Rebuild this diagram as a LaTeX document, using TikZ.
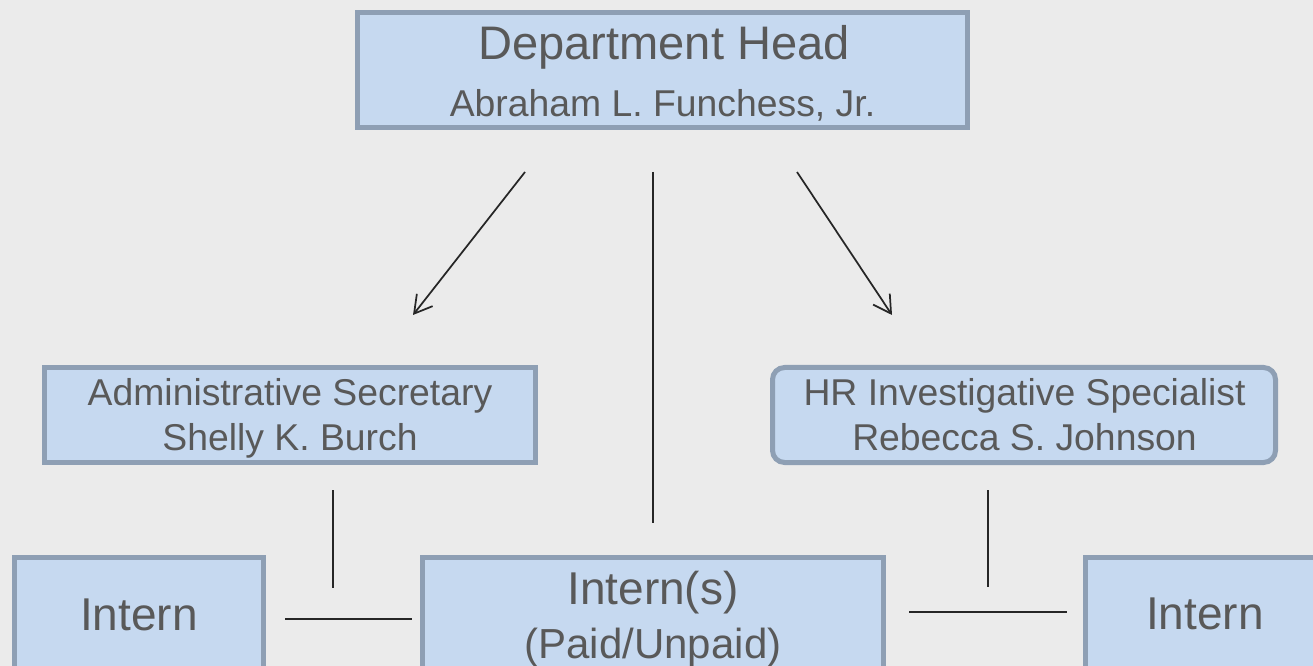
\documentclass[tikz,border=0pt]{standalone}
\usepackage{fontspec}
\setmainfont{Liberation Sans}
\usetikzlibrary{arrows.meta}
\definecolor{bgc}{HTML}{EBEBEB}
\definecolor{boxfill}{HTML}{C6D9F0}
\definecolor{boxline}{HTML}{8E9FB4}
\definecolor{txt}{HTML}{595959}
\definecolor{linec}{HTML}{262626}
\tikzset{
  box/.style={draw=boxline, fill=boxfill, line width=3.75pt, inner sep=0pt, rectangle},
  lbl/.style={text=txt, anchor=base, inner sep=0pt},
  big/.style={font=\fontsize{34.5pt}{40pt}\selectfont},
  title/.style={font=\fontsize{35.3pt}{41pt}\selectfont},
  mid/.style={font=\fontsize{31.5pt}{37pt}\selectfont},
  small/.style={font=\fontsize{28pt}{33pt}\selectfont},
  conn/.style={draw=linec, line width=1.3pt},
  arr/.style={conn, -{Straight Barb[length=13pt, width=15pt, line width=1.3pt]}}
}
\begin{document}
\begin{tikzpicture}[x=0.75pt, y=-0.75pt]
\clip (0,0) rectangle (1313,666);
\fill[bgc] (0,0) rectangle (1313,666);

% boxes
\node[box, minimum width=457.5pt, minimum height=86.25pt] (head) at (662.5,70) {};
\node[box, minimum width=368.25pt, minimum height=71.25pt] (admin) at (290,415) {};
\node[box, rounded corners=9pt, minimum width=377.25pt, minimum height=71.25pt] (hr) at (1024,415) {};
\node[box, minimum width=186.75pt, minimum height=93.75pt] (internL) at (139,620) {};
\node[box, minimum width=345.75pt, minimum height=93.75pt] (interns) at (653,620) {};
\node[box, minimum width=194.25pt, minimum height=93.75pt] (internR) at (1215,620) {};

% texts
\node[lbl, title] (headA) at (664,60) {Department Head};
\node[lbl, small] (headB) at (662.5,117) {Abraham L. Funchess, Jr.};
\node[lbl, small] (adminA) at (290,405) {Administrative Secretary};
\node[lbl, small] (adminB) at (290,450) {Shelly K. Burch};
\node[lbl, small] (hrA) at (1024.5,405) {HR Investigative Specialist};
\node[lbl, small] (hrB) at (1024.5,450) {Rebecca S. Johnson};
\node[lbl, big] (internLT) at (139,630) {Intern};
\node[lbl, big] (internsA) at (653,604) {Intern(s)};
\node[lbl, mid] (internsB) at (653,658) {(Paid/Unpaid)};
\node[lbl, big] (internRT) at (1205,629) {Intern};

% connector end points
\coordinate (la1) at (525,172);
\coordinate (la2) at (413,315);
\coordinate (ra1) at (797,172);
\coordinate (ra2) at (892,315);
\coordinate (c1) at (653,172);
\coordinate (c2) at (653,523);
\coordinate (lv1) at (333,490);
\coordinate (lv2) at (333,588);
\coordinate (lh1) at (285,619);
\coordinate (lh2) at (412,619);
\coordinate (rv1) at (988,490);
\coordinate (rv2) at (988,587);
\coordinate (rh1) at (909,612);
\coordinate (rh2) at (1067,612);

\draw[arr] (la1) -- (la2);
\draw[arr] (ra1) -- (ra2);
\draw[conn] (c1) -- (c2);
\draw[conn] (lv1) -- (lv2);
\draw[conn] (lh1) -- (lh2);
\draw[conn] (rv1) -- (rv2);
\draw[conn] (rh1) -- (rh2);
\end{tikzpicture}
\end{document}
